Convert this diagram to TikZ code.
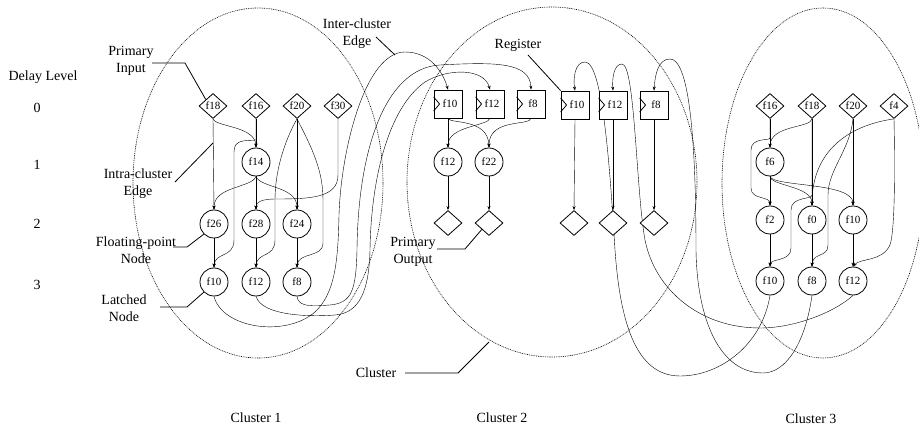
\documentclass[tikz,border=0pt]{standalone}
\usepackage{fontspec}
\setmainfont{Liberation Serif}
\usetikzlibrary{shapes.geometric,arrows.meta}
\pgfdeclarelayer{bg}\pgfdeclarelayer{edges}
\pgfsetlayers{bg,edges,main}
\begin{document}
\begin{tikzpicture}[x=1pt,y=-1pt,
  line width=0.8pt,
  fp/.style={circle,draw,fill=white,minimum size=28pt,inner sep=0pt,font=\fontsize{11}{13}\selectfont},
  pin/.style={diamond,draw,fill=white,minimum width=28pt,minimum height=25pt,inner sep=0pt,font=\fontsize{11}{13}\selectfont},
  reg/.style={rectangle,draw,fill=white,minimum width=28pt,minimum height=28pt,inner sep=0pt,font=\fontsize{11}{13}\selectfont},
  lbl/.style={inner sep=0pt,align=center,font=\fontsize{14}{17}\selectfont},
  e/.style={-{Stealth[length=4pt,width=3pt]}},
  lead/.style={line width=0.8pt},
  clus/.style={line width=0.6pt,dash pattern=on 0.9pt off 0.9pt}]
\useasboundingbox (0,0) rectangle (919,430);

% ---------- cluster 1 nodes
\node[pin] (a_f18) at (213,106) {f18};
\node[pin] (a_f16) at (256,106) {f16};
\node[pin] (a_f20) at (297,106) {f20};
\node[pin] (a_f30) at (338,106) {f30};
\node[fp] (a_f14) at (256,162) {f14};
\node[fp] (a_f26) at (214,224) {f26};
\node[fp] (a_f28) at (256,224) {f28};
\node[fp] (a_f24) at (297,224) {f24};
\node[fp] (a_f10) at (214,282) {f10};
\node[fp] (a_f12) at (256,282) {f12};
\node[fp] (a_f8)  at (297,282) {f8};

% ---------- cluster 2 nodes
\node[reg] (b_r10) at (448,104) {\hspace*{4pt}f10};
\node[reg] (b_r12) at (490,104) {\hspace*{4pt}f12};
\node[reg] (b_r8)  at (531,104) {\hspace*{4pt}f8};
\node[fp] (b_f12) at (448,162) {f12};
\node[fp] (b_f22) at (489,162) {f22};
\node[pin] (b_o1) at (448,223) {};
\node[pin] (b_o2) at (489,223) {};
\node[reg] (b_s10) at (575,105) {\hspace*{4pt}f10};
\node[reg] (b_s12) at (613,105) {\hspace*{4pt}f12};
\node[reg] (b_s8)  at (654,105) {\hspace*{4pt}f8};
\node[pin] (b_o3) at (574,223) {};
\node[pin] (b_o4) at (613,223) {};
\node[pin] (b_o5) at (654,223) {};
\foreach \r in {b_r10,b_r12,b_r8,b_s10,b_s12,b_s8}
  \draw ([yshift=7pt]\r.west) -- ([xshift=6pt]\r.west) -- ([yshift=-7pt]\r.west);

% ---------- cluster 3 nodes
\node[pin] (c_f16) at (770,106) {f16};
\node[pin] (c_f18) at (812,106) {f18};
\node[pin] (c_f20) at (853,106) {f20};
\node[pin] (c_f4)  at (894,106) {f4};
\node[fp] (c_f6)  at (770,162) {f6};
\node[fp] (c_f2)  at (770,220) {f2};
\node[fp] (c_f0)  at (812,220) {f0};
\node[fp] (c_f10) at (853,220) {f10};
\node[fp] (c_f10b) at (770,281) {f10};
\node[fp] (c_f8)  at (812,281) {f8};
\node[fp] (c_f12) at (853,281) {f12};

% ---------- clusters
\begin{pgfonlayer}{bg}
\draw[clus] (258,183) ellipse [x radius=125pt, y radius=175pt];
\draw[clus] (552,182) ellipse [x radius=145pt, y radius=175pt];
\draw[clus] (823,183) ellipse [x radius=101pt, y radius=175pt];
\end{pgfonlayer}

\begin{pgfonlayer}{edges}
% cluster 1 internal
\draw[e] (a_f18.south) -- (a_f26.north);
\draw[e] (a_f18.south) .. controls (216,127) and (255,126) .. (a_f14.north);
\draw[e] (a_f16.south) -- (a_f14.north);
\draw[e] (a_f16.south) -- (256,140) .. controls (245,141) and (234,139) .. (234,152) -- (234,240) .. controls (234,258) and (215,252) .. (a_f10.north);
\draw[e] (a_f14.south) .. controls (252,188) and (214,186) .. (a_f26.north);
\draw[e] (a_f14.south) -- (a_f28.north);
\draw[e] (a_f14.south) .. controls (260,188) and (297,186) .. (a_f24.north);
\draw[e] (a_f20.south) -- (a_f24.north);
\draw[e] (a_f20.south) .. controls (285,140) and (275,170) .. (275,200) -- (275,240) .. controls (275,258) and (257,252) .. (a_f12.north);
\draw[e] (a_f20.south) .. controls (312,148) and (323,170) .. (323,200) -- (323,243) .. controls (323,258) and (298,252) .. (a_f8.north);
\draw[e] (a_f30.south) -- (338,175) .. controls (338,198) and (310,199) .. (275,199) .. controls (262,199) and (256,202) .. (a_f28.north);
\draw[e] (a_f26.south) -- (a_f10.north);
\draw[e] (a_f28.south) -- (a_f12.north);
\draw[e] (a_f24.south) -- (a_f8.north);
% cluster 1 -> cluster 2
\draw[e] (a_f10.south) .. controls (222,328) and (285,338) .. (315,312) .. controls (335,293) and (338,262) .. (339,215) .. controls (341,150) and (365,52) .. (405,52) .. controls (430,52) and (443,72) .. (b_r10.north);
\draw[e] (a_f12.south) .. controls (262,316) and (310,317) .. (335,315) .. controls (360,313) and (369,290) .. (370,250) .. controls (371,180) and (388,108) .. (425,82) .. controls (448,68) and (484,68) .. (b_r12.north);
\draw[e] (a_f8.south) .. controls (298,308) and (315,306) .. (330,305) .. controls (352,303) and (356,290) .. (357,250) .. controls (358,150) and (385,68) .. (440,65) .. controls (495,62) and (530,62) .. (b_r8.north);
% cluster 2 internal
\draw[e] (b_r10.south) -- (b_f12.north);
\draw[e] (b_r10.south) .. controls (450,124) and (488,118) .. (b_f22.north);
\draw[e] (b_r12.south) .. controls (488,126) and (448,126) .. (b_f12.north);
\draw[e] (b_r8.south) .. controls (530,126) and (489,118) .. (b_f22.north);
\draw[e] (b_f12.south) -- (b_o1.north);
\draw[e] (b_f22.south) -- (b_o2.north);
\draw[e] (b_s10.south) -- (b_o3.north);
\draw[e] (b_s12.south) -- (b_o4.north);
\draw[e] (b_s8.south) -- (b_o5.north);
% cluster 3 internal
\draw[e] (c_f16.south) -- (c_f6.north);
\draw[e] (c_f16.south) -- (770,138) .. controls (770,141) and (751,137) .. (751,150) -- (751,188) .. controls (751,200) and (770,196) .. (c_f2.north);
\draw[e] (c_f18.south) .. controls (811,128) and (771,125) .. (c_f6.north);
\draw[e] (c_f18.south) -- (c_f0.north);
\draw[e] (c_f18.south) -- (812,195) .. controls (812,200) and (791,196) .. (791,210) -- (791,248) .. controls (791,262) and (771,258) .. (c_f10b.north);
\draw[e] (c_f6.south) -- (c_f2.north);
\draw[e] (c_f6.south) .. controls (771,186) and (812,186) .. (c_f0.north);
\draw[e] (c_f6.south) .. controls (773,187) and (853,182) .. (c_f10.north);
\draw[e] (c_f20.south) -- (c_f10.north);
\draw[e] (c_f20.south) .. controls (850,150) and (828,170) .. (828,195) -- (828,245) .. controls (828,258) and (813,252) .. (c_f8.north);
\draw[e] (c_f4.south) .. controls (850,125) and (812,150) .. (c_f0.north);
\draw[e] (c_f4.south) .. controls (895,170) and (895,230) .. (890,245) .. controls (882,262) and (860,258) .. (c_f12.north);
\draw[e] (c_f10.south) -- (c_f12.north);
\draw[e] (c_f2.south) -- (c_f10b.north);
\draw[e] (c_f0.south) -- (c_f8.north);
% cluster 3 -> cluster 2
\draw[e] (c_f10b.south) .. controls (762,345) and (720,376) .. (680,376) .. controls (635,376) and (620,320) .. (615,250) .. controls (610,170) and (603,62) .. (585,62) .. controls (575,62) and (573,78) .. (b_s10.north);
\draw[e] (c_f8.south) .. controls (805,345) and (785,373) .. (763,373) .. controls (720,373) and (697,320) .. (696,250) .. controls (696,130) and (688,59) .. (670,59) .. controls (658,59) and (655,75) .. (b_s8.north);
\draw[e] (c_f12.south) .. controls (835,312) and (795,328) .. (760,328) .. controls (700,328) and (655,290) .. (645,240) .. controls (636,190) and (635,64) .. (622,64) .. controls (614,64) and (612,78) .. (b_s12.north);
\end{pgfonlayer}

% ---------- labels
\node[lbl] (t_dl) at (43,77) {Delay Level};
\node[lbl] (t_0) at (37,108) {0};
\node[lbl] (t_1) at (37,165) {1};
\node[lbl] (t_2) at (37,224) {2};
\node[lbl] (t_3) at (37,285) {3};
\node[lbl] (t_pi) at (131,61) {Primary\\Input};
\node[lbl] (t_ic) at (138,184) {Intra-cluster\\Edge};
\node[lbl] (t_fp) at (136,250) {Floating-point\\Node};
\node[lbl] (t_ln) at (124,308) {Latched\\Node};
\node[lbl] (t_ie) at (357,34) {Inter-cluster\\Edge};
\node[lbl] (t_rg) at (518,45) {Register};
\node[lbl] (t_po) at (413,252) {Primary\\Output};
\node[lbl] (t_cl) at (376,373) {Cluster};
\node[lbl] (t_c1) at (256,418) {Cluster 1};
\node[lbl] (t_c2) at (502,418) {Cluster 2};
\node[lbl] (t_c3) at (811,419) {Cluster 3};

% ---------- leaders
\coordinate (p_ic) at (213,143);
\coordinate (p_ie) at (395,55);
\coordinate (p_cl) at (489,342);
\draw[lead] (152,63) -- (185,63) -- (a_f18.north west);
\draw[lead] (175,182) -- (p_ic);
\draw[lead] (173,247) -- (187,247) -- (a_f26.south west);
\draw[lead] (160,307) -- (187,307) -- (a_f10.south west);
\draw[lead] (376,37) -- (p_ie);
\draw[lead] (528,55) -- (b_s10.north west);
\draw[lead] (437,249) -- (465,249) -- (b_o2.south west);
\draw[lead] (405,373) -- (458,373) -- (p_cl);
\end{tikzpicture}
\end{document}
